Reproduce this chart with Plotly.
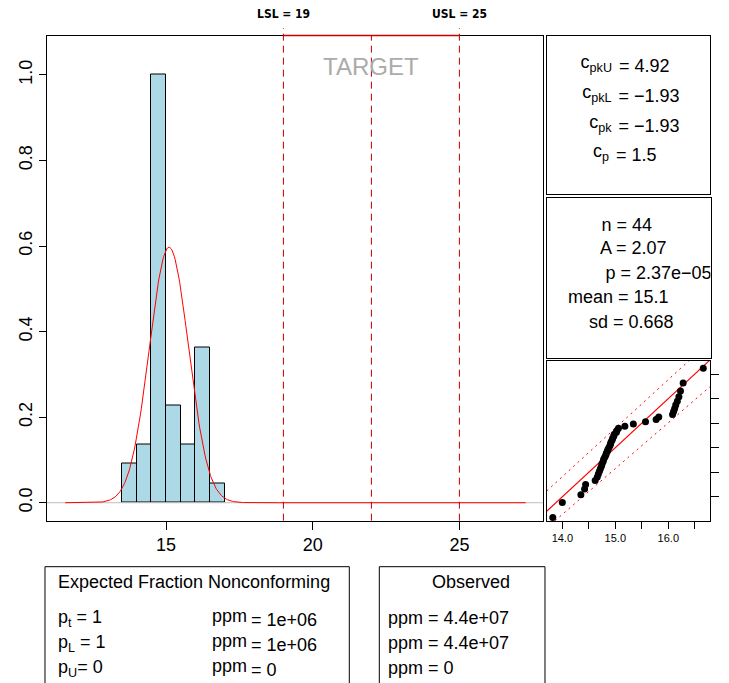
import numpy as np
import plotly.graph_objects as go
from statistics import NormalDist

# ---------------- data ----------------
bin_left_edges = [13.5, 14.0, 14.5, 15.0, 15.5, 16.0, 16.5]
bin_width = 0.5
bin_counts = [2, 3, 22, 5, 3, 8, 1]

sample_values = [13.82, 14.00, 14.35, 14.42, 14.44,
                 14.62, 14.66, 14.68, 14.70, 14.72, 14.74, 14.75, 14.77, 14.78, 14.80, 14.82,
                 14.83, 14.85, 14.86, 14.88, 14.90, 14.91, 14.92, 14.94, 14.95, 14.97, 14.98,
                 15.02, 15.03, 15.06, 15.18, 15.34,
                 15.57, 15.77, 15.82,
                 16.08, 16.10, 16.12, 16.14, 16.17, 16.20, 16.23, 16.28,
                 16.66]
mean_val = 15.1
sd_val = 0.668
lsl, usl, target = 19, 25, 22
curve_x_from, curve_x_to = 11.56, 27.26

main_xticks = [15, 20, 25]
main_yticks = [0.0, 0.2, 0.4, 0.6, 0.8, 1.0]
qq_ticks = [14.0, 14.5, 15.0, 15.5, 16.0, 16.5]
qq_tick_labels = ["14.0", "", "15.0", "", "16.0", ""]
qq_line_slope, qq_line_intercept = 1.0, 0.0
qq_upper_band_x = [13.705, 16.39]
qq_upper_band_y = [14.118, 16.773]
qq_lower_band_x = [13.862, 16.787]
qq_lower_band_y = [13.513, 16.243]

cp_names = ["c<sub>pkU</sub>", "c<sub>pkL</sub>", "c<sub>pk</sub>", "c<sub>p</sub>"]
cp_values = ["= 4.92", "= \u22121.93", "= \u22121.93", "= 1.5"]
stats_labels = ["n = 44", "A = 2.07", "p = 2.37e\u221205", "mean = 15.1", "sd = 0.668"]
expected_title = "Expected Fraction Nonconforming"
expected_p_labels = ["p<sub>t</sub> = 1", "p<sub>L</sub> = 1", "p<sub>U</sub>= 0"]
expected_ppm_values = ["= 1e+06", "= 1e+06", "= 0"]
observed_title = "Observed"
observed_labels = ["ppm = 4.4e+07", "ppm = 4.4e+07", "ppm = 0"]

# ---------------- layout helpers ----------------
W, H = 729, 683
FONT = "Liberation Sans, Arial, sans-serif"


def px(x):
    return x / W


def py(y):
    return 1 - y / H


main_dom_x = [px(47), px(543)]
main_dom_y = [py(520.7), py(35.5)]
main_xrange = [10.94, 27.85]
main_yrange = [-0.042, 1.092]

cp_box = (546.7, 710.0, 35.7, 194.3)      # left, right, top, bottom (px)
st_box = (546.7, 710.5, 197.7, 358.3)
qq_box = (546.7, 710.0, 360.7, 520.7)
qq_xrange = [13.705, 16.787]
qq_yrange = [13.513, 16.773]

fig = go.Figure()

# histogram (density)
n_obs = len(sample_values)
centers = [e + bin_width / 2 for e in bin_left_edges]
dens = [c / (n_obs * bin_width) for c in bin_counts]
fig.add_trace(go.Bar(x=centers, y=dens, width=bin_width,
                     marker=dict(color="#ADD8E6", line=dict(color="black", width=1)),
                     hoverinfo="skip", xaxis="x", yaxis="y"))

# grey baseline
fig.add_trace(go.Scatter(x=main_xrange, y=[0, 0], mode="lines",
                         line=dict(color="#BEBEBE", width=1), hoverinfo="skip",
                         xaxis="x", yaxis="y"))

# fitted normal density
nd = NormalDist(mean_val, sd_val)
cx = np.linspace(curve_x_from, curve_x_to, 600)
cy = [nd.pdf(v) for v in cx]
fig.add_trace(go.Scatter(x=cx, y=cy, mode="lines", line=dict(color="red", width=1),
                         hoverinfo="skip", xaxis="x", yaxis="y"))

# spec lines
spec_col = "#C00000"
shapes = []
for v, top in [(lsl, 28), (usl, 28), (target, 35.5)]:
    shapes.append(dict(type="line", xref="x", yref="paper", x0=v, x1=v,
                       y0=py(520.7), y1=py(top), layer="above",
                       line=dict(color=spec_col, width=1, dash="7px,5px")))
shapes.append(dict(type="line", xref="x", yref="paper", x0=lsl, x1=usl,
                   y0=py(35.5), y1=py(35.5), layer="above",
                   line=dict(color="#C80000", width=1.3)))

annotations = []
for v, lab in [(lsl, "LSL = %d" % lsl), (usl, "USL = %d" % usl)]:
    annotations.append(dict(x=v, y=py(14), xref="x", yref="paper", text="<b>%s</b>" % lab,
                            showarrow=False, xanchor="center", yanchor="middle",
                            font=dict(family="DejaVu Sans Condensed, Liberation Sans, sans-serif",
                                      size=12, color="black")))
annotations.append(dict(x=target, y=py(67), xref="x", yref="paper", text="TARGET",
                        showarrow=False, xanchor="center", yanchor="middle",
                        font=dict(family=FONT, size=24, color="#ABABAB")))


# panel texts as clipped scatter text
def panel_texts(box, xa, ya, pos, labels, where="middle right"):
    l, r, t, b = box
    xs = [(lx - l) / (r - l) for lx, _ in pos]
    ys = [(b - cy_) / (b - t) for _, cy_ in pos]
    fig.add_trace(go.Scatter(x=xs, y=ys, text=labels, mode="text",
                             textposition=where, cliponaxis=True,
                             textfont=dict(family=FONT, size=18, color="black"),
                             hoverinfo="skip", xaxis=xa, yaxis=ya))


cp_rows = [68, 98, 128, 157]
cp_eq_x = [619, 618.5, 618.5, 616]
panel_texts(cp_box, "x2", "y2",
            [(x - 7, y - 4) for x, y in zip(cp_eq_x, cp_rows)], cp_names, "middle left")
panel_texts(cp_box, "x2", "y2",
            [(x, y) for x, y in zip(cp_eq_x, cp_rows)], cp_values, "middle right")
panel_texts(st_box, "x3", "y3",
            [(601.5, 226.7), (600, 250), (605.5, 275), (568, 298.3), (589, 323.3)],
            stats_labels)

# QQ plot
probs = [(i - 0.5) / n_obs for i in range(1, n_obs + 1)]
theo = [mean_val + sd_val * NormalDist().inv_cdf(p) for p in probs]
xs_sorted = sorted(sample_values)
fig.add_trace(go.Scatter(x=qq_upper_band_x, y=qq_upper_band_y, mode="lines",
                         line=dict(color="red", width=1, dash="2px,4px"),
                         hoverinfo="skip", xaxis="x4", yaxis="y4"))
fig.add_trace(go.Scatter(x=qq_lower_band_x, y=qq_lower_band_y, mode="lines",
                         line=dict(color="red", width=1, dash="2px,4px"),
                         hoverinfo="skip", xaxis="x4", yaxis="y4"))
lx = [qq_xrange[0] - 0.2, qq_xrange[1] + 0.2]
fig.add_trace(go.Scatter(x=lx, y=[qq_line_intercept + qq_line_slope * v for v in lx],
                         mode="lines", line=dict(color="red", width=1.2),
                         hoverinfo="skip", xaxis="x4", yaxis="y4"))
fig.add_trace(go.Scatter(x=xs_sorted, y=theo, mode="markers",
                         marker=dict(color="black", size=7),
                         hoverinfo="skip", xaxis="x4", yaxis="y4", cliponaxis=False))

# bottom boxes (open at the bottom, cut by the page edge)
for (l, r) in [(45, 349.3), (379.3, 545)]:
    shapes.append(dict(type="path", xref="paper", yref="paper",
                       path="M %f,%f L %f,%f L %f,%f L %f,%f" % (px(l), py(683), px(l), py(566.7),
                                                                px(r), py(566.7), px(r), py(683)),
                       line=dict(color="black", width=1)))


def ann(x, y, text, anchor="left"):
    annotations.append(dict(x=px(x), y=py(y), xref="paper", yref="paper", text=text,
                            showarrow=False, xanchor=anchor, yanchor="middle",
                            font=dict(family=FONT, size=18, color="black")))


ann(56, 581.7, expected_title)
rows_y = [618.3, 643.3, 668.3]
for i, y in enumerate(rows_y):
    ann(56, y, expected_p_labels[i])
    ann(210, y - 2.5, "ppm")
    ann(249, y + 1.5, expected_ppm_values[i])
    ann(385.5, y, observed_labels[i])
ann(471, 581.7, observed_title, anchor="center")

box_axis = dict(showline=True, mirror=True, linecolor="black", linewidth=1,
                showgrid=False, zeroline=False, ticks="", showticklabels=False,
                range=[0, 1], fixedrange=True, automargin=False)

fig.update_layout(
    width=W, height=H, autosize=False, margin=dict(l=0, r=0, t=0, b=0, autoexpand=False),
    paper_bgcolor="white", plot_bgcolor="white", showlegend=False,
    font=dict(family=FONT, size=18, color="black"),
    bargap=0, shapes=shapes,
    xaxis=dict(domain=main_dom_x, range=main_xrange, anchor="y", automargin=False,
               showline=True, mirror=True, linecolor="black", linewidth=1,
               showgrid=False, zeroline=False, ticks="outside", ticklen=8,
               tickcolor="black", tickvals=main_xticks, tickfont=dict(size=18)),
    yaxis=dict(domain=main_dom_y, range=main_yrange, anchor="x", automargin=False,
               showline=True, mirror=True, linecolor="black", linewidth=1,
               showgrid=False, zeroline=False, ticks="outside", ticklen=7,
               tickcolor="black", tickvals=main_yticks,
               ticktext=["%.1f" % v for v in main_yticks],
               tickangle=-90, tickfont=dict(size=18)),
    xaxis2=dict(box_axis, domain=[px(cp_box[0]), px(cp_box[1])], anchor="y2"),
    yaxis2=dict(box_axis, domain=[py(cp_box[3]), py(cp_box[2])], anchor="x2"),
    xaxis3=dict(box_axis, domain=[px(st_box[0]), px(st_box[1])], anchor="y3"),
    yaxis3=dict(box_axis, domain=[py(st_box[3]), py(st_box[2])], anchor="x3"),
    xaxis4=dict(domain=[px(qq_box[0]), px(qq_box[1])], range=qq_xrange, anchor="y4",
                automargin=False,
                showline=True, mirror=True, linecolor="black", linewidth=1,
                showgrid=False, zeroline=False, ticks="outside", ticklen=7,
                tickcolor="black", tickvals=qq_ticks, ticktext=qq_tick_labels,
                tickfont=dict(size=11)),
    yaxis4=dict(domain=[py(qq_box[3]), py(qq_box[2])], range=qq_yrange, anchor="x4",
                side="right", automargin=False,
                showline=True, mirror=True, linecolor="black", linewidth=1,
                showgrid=False, zeroline=False, ticks="outside", ticklen=8,
                tickcolor="black", tickvals=qq_ticks, ticktext=qq_tick_labels,
                tickangle=-90, tickfont=dict(size=11), ticklabelstandoff=19),
    annotations=annotations,
)

fig.write_html("out.html")
